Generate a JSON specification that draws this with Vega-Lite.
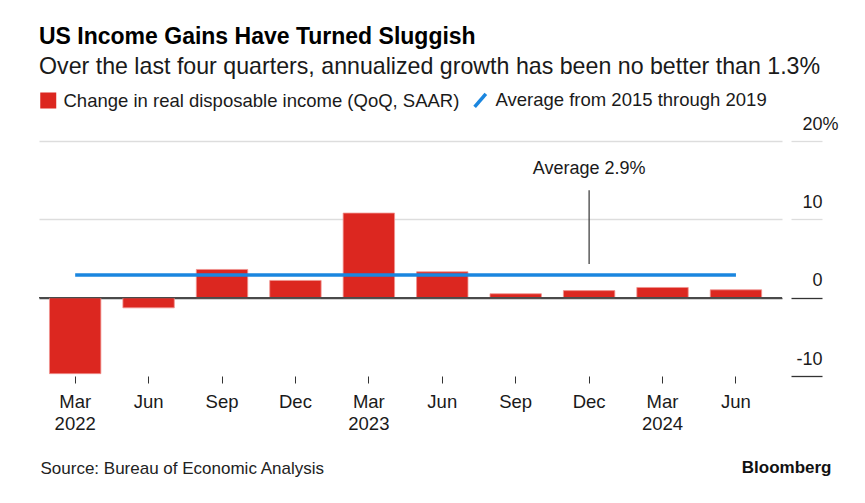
{
  "$schema": "https://vega.github.io/schema/vega-lite/v6.json",
  "width": 743,
  "height": 235,
  "autosize": {"type": "none"},
  "padding": {"left": 39, "top": 141, "right": 83, "bottom": 127},
  "background": "white",
  "config": {
    "font": "Liberation Sans",
    "view": {"stroke": null}
  },
  "title": {
    "text": "US Income Gains Have Turned Sluggish",
    "subtitle": "Over the last four quarters, annualized growth has been no better than 1.3%",
    "anchor": "start",
    "frame": "group",
    "font": "Liberation Sans",
    "fontSize": 23,
    "fontWeight": "bold",
    "color": "#000000",
    "subtitleFont": "Liberation Sans",
    "subtitleFontSize": 23.2,
    "subtitleColor": "#1a1a1a",
    "subtitlePadding": 7,
    "offset": 13
  },
  "datasets": {
    "income": [
      {"q": "Mar 2022", "v": -9.7, "avg": 2.9},
      {"q": "Jun 2022", "v": -1.3, "avg": 2.9},
      {"q": "Sep 2022", "v": 3.6, "avg": 2.9},
      {"q": "Dec 2022", "v": 2.2, "avg": 2.9},
      {"q": "Mar 2023", "v": 10.8, "avg": 2.9},
      {"q": "Jun 2023", "v": 3.3, "avg": 2.9},
      {"q": "Sep 2023", "v": 0.5, "avg": 2.9},
      {"q": "Dec 2023", "v": 0.9, "avg": 2.9},
      {"q": "Mar 2024", "v": 1.3, "avg": 2.9},
      {"q": "Jun 2024", "v": 1.0, "avg": 2.9}
    ],
    "note": [
      {"q": "Dec 2023", "y1": 4.3, "y2": 13.7, "ty": 16.4, "label": "Average 2.9%"}
    ],
    "zero": [{"z": 0}]
  },
  "layer": [
    {
      "data": {"name": "income"},
      "mark": {"type": "bar", "stroke": "#f0938f", "strokeWidth": 0.8},
      "encoding": {
        "x": {
          "field": "q",
          "type": "ordinal",
          "sort": null,
          "scale": {"paddingInner": 0.3, "paddingOuter": 0.21, "align": 0.34},
          "axis": {
            "title": "Source: Bureau of Economic Analysis",
            "titleAnchor": "start",
            "titleAlign": "left",
            "titleX": 1,
            "titleY": 97,
            "titleBaseline": "alphabetic",
            "titleFont": "Liberation Sans",
            "titleFontSize": 17,
            "titleFontWeight": "normal",
            "titleColor": "#222222",
            "domain": false,
            "grid": false,
            "ticks": true,
            "tickSize": 7,
            "tickColor": "#333333",
            "tickWidth": 1,
            "labelAngle": 0,
            "labelFontSize": 18.5,
            "labelColor": "#1a1a1a",
            "labelBaseline": "alphabetic",
            "labelPadding": 24,
            "labelLineHeight": 22.6,
            "labelExpr": "split(datum.label, ' ')[0] == 'Mar' ? split(datum.label, ' ') : split(datum.label, ' ')[0]"
          }
        },
        "y": {
          "field": "v",
          "type": "quantitative",
          "scale": {"domain": [-10, 20], "nice": false, "zero": false},
          "axis": {
            "orient": "right",
            "values": [-10, 0, 10, 20],
            "title": "Bloomberg",
            "titleAngle": 0,
            "titleAlign": "right",
            "titleBaseline": "alphabetic",
            "titleX": 40,
            "titleY": 331,
            "titleFont": "Liberation Sans",
            "titleFontSize": 17,
            "titleFontWeight": "bold",
            "titleColor": "#111111",
            "domain": false,
            "offset": 9,
            "grid": true,
            "gridColor": {"condition": {"test": "datum.value == 0", "value": "#4a4a4a"}, "value": "#dddddd"},
            "gridOpacity": {"condition": {"test": "datum.value == -10", "value": 0}, "value": 1},
            "gridWidth": 1.3,
            "tickSize": 31,
            "tickWidth": 1.3,
            "tickColor": {"condition": {"test": "datum.value <= 0", "value": "#333333"}, "value": "#dddddd"},
            "labelAlign": "right",
            "labelBaseline": "middle",
            "labelOffset": -17,
            "labelPadding": {"condition": {"test": "datum.value == 20", "value": 16}, "value": 0},
            "labelFontSize": 18,
            "labelColor": "#1a1a1a",
            "labelExpr": "datum.value == 20 ? '20%' : '' + datum.value"
          }
        },
        "color": {
          "datum": "Change in real disposable income (QoQ, SAAR)",
          "type": "nominal",
          "scale": {
            "domain": ["Change in real disposable income (QoQ, SAAR)", "Average from 2015 through 2019"],
            "range": ["#dc2720", "#1a86df"]
          },
          "legend": {
            "orient": "top",
            "direction": "horizontal",
            "title": null,
            "offset": 27,
            "padding": 0,
            "labelFontSize": 18.5,
            "labelColor": "#1a1a1a",
            "labelLimit": 0,
            "labelOffset": 6,
            "columnPadding": 7,
            "symbolSize": 156,
            "encode": {
              "symbols": {
                "update": {
                  "shape": {"signal": "datum.value === 'Average from 2015 through 2019' ? 'M-0.9,1.05L0.9,-1.05' : 'square'"},
                  "fill": {"signal": "datum.value === 'Average from 2015 through 2019' ? 'transparent' : '#dc2720'"},
                  "stroke": {"signal": "datum.value === 'Average from 2015 through 2019' ? '#1a86df' : 'transparent'"},
                  "strokeWidth": {"value": 3.5},
                  "opacity": {"value": 1}
                }
              }
            }
          }
        }
      }
    },
    {
      "data": {"name": "zero"},
      "mark": {"type": "rule", "color": "#4a4a4a", "strokeWidth": 1.3},
      "encoding": {"y": {"field": "z", "type": "quantitative"}}
    },
    {
      "data": {"name": "income"},
      "mark": {"type": "line", "strokeWidth": 3.5, "strokeCap": "butt"},
      "encoding": {
        "x": {"field": "q", "type": "ordinal", "sort": null},
        "y": {"field": "avg", "type": "quantitative"},
        "color": {
          "datum": "Average from 2015 through 2019",
          "type": "nominal",
          "legend": {
            "orient": "top",
            "direction": "horizontal",
            "title": null,
            "offset": 27,
            "padding": 0,
            "labelFontSize": 18.5,
            "labelColor": "#1a1a1a",
            "labelLimit": 0,
            "labelOffset": 6,
            "columnPadding": 7,
            "symbolSize": 156,
            "encode": {
              "symbols": {
                "update": {
                  "shape": {"signal": "datum.value === 'Average from 2015 through 2019' ? 'M-0.9,1.05L0.9,-1.05' : 'square'"},
                  "fill": {"signal": "datum.value === 'Average from 2015 through 2019' ? 'transparent' : '#dc2720'"},
                  "stroke": {"signal": "datum.value === 'Average from 2015 through 2019' ? '#1a86df' : 'transparent'"},
                  "strokeWidth": {"value": 3.5},
                  "opacity": {"value": 1}
                }
              }
            }
          }
        }
      }
    },
    {
      "data": {"name": "note"},
      "mark": {"type": "rule", "color": "#333333", "strokeWidth": 1.2},
      "encoding": {
        "x": {"field": "q", "type": "ordinal", "sort": null},
        "y": {"field": "y1", "type": "quantitative"},
        "y2": {"field": "y2"}
      }
    },
    {
      "data": {"name": "note"},
      "mark": {"type": "text", "fontSize": 18, "color": "#1a1a1a", "baseline": "middle", "align": "center"},
      "encoding": {
        "x": {"field": "q", "type": "ordinal", "sort": null},
        "y": {"field": "ty", "type": "quantitative"},
        "text": {"field": "label"}
      }
    }
  ]
}
